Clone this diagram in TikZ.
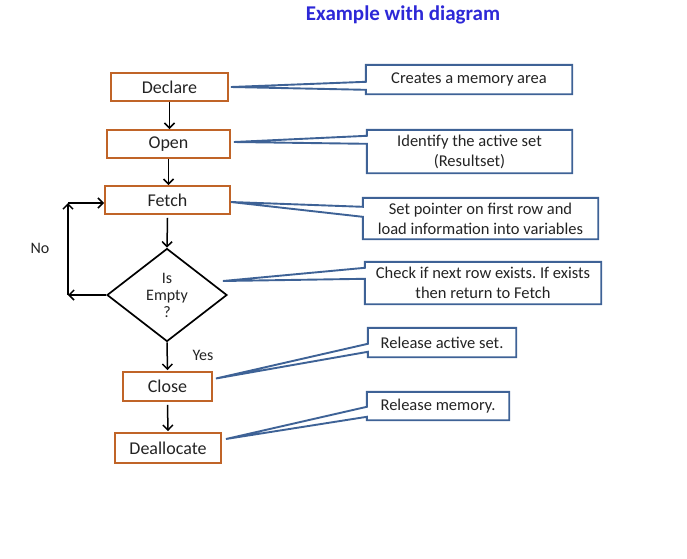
\documentclass[tikz,border=0pt]{standalone}
\usepackage{fontspec}
\setmainfont{Carlito}
\frenchspacing
\usetikzlibrary{shapes.geometric,calc,arrows.meta}
\definecolor{boxorange}{RGB}{192,100,40}
\definecolor{callblue}{RGB}{62,98,150}
\definecolor{titleblue}{RGB}{45,40,215}
\definecolor{txt}{RGB}{35,35,35}
\newcommand{\callshape}[4]{%
  \draw[callline] (#1.north west) -- (#1.north east) -- (#1.south east) -- (#1.south west)
    -- ([yshift=-#4pt]#1.north west) -- (#2) -- ([yshift=-#3pt]#1.north west) -- cycle;}
\begin{document}
\begin{tikzpicture}[x=1pt,y=-1pt,
  flowbox/.style={draw=boxorange,line width=1.9pt,minimum height=28pt,inner sep=0pt,
    text=txt,font=\fontsize{18}{20}\selectfont},
  decision/.style={draw=black,line width=1.7pt,diamond,aspect=1.29,minimum width=120pt,
    minimum height=93pt,inner sep=0pt,align=center,text=txt,font=\fontsize{16}{17}\selectfont},
  callbox/.style={inner sep=0pt,align=center,text=txt,font=\fontsize{16.5}{20}\selectfont},
  callline/.style={draw=callblue,line width=1.9pt,line join=miter},
  flow/.style={draw=black,line width=1.5pt,-{Straight Barb[length=5pt,width=10pt,line width=1.5pt]}},
  lbl/.style={text=txt,font=\fontsize{16}{18}\selectfont}]
\useasboundingbox (0,0) rectangle (687,558);
\node[font=\bfseries\fontsize{21}{24}\selectfont,text=titleblue] (title) at (403,15) {Example with diagram};
% flowchart
\node[flowbox,minimum width=117pt] (declare) at (169.5,87) {Declare};
\node[flowbox,minimum width=123pt] (open) at (168.5,144) {Open};
\node[flowbox,minimum width=125pt] (fetch) at (167.5,200) {Fetch};
\node[decision] (empty) at (167,295) {Is\\Empty\\?};
\node[flowbox,minimum width=89pt,minimum height=29pt] (close) at (167.5,386.5) {Close};
\node[flowbox,minimum width=106pt,minimum height=30pt] (dealloc) at (168,448) {Deallocate};
\draw[flow] (declare.south) -- (declare.south |- open.north);
\draw[flow] (open.south) -- (open.south |- fetch.north);
\draw[flow] ([yshift=-3pt]fetch.south) -- (empty.north);
\draw[flow] (empty.south) -- ([yshift=1pt]close.north);
\draw[flow] ([yshift=-3pt]close.south) -- ([yshift=1pt]dealloc.north);
\coordinate (lpa) at (68,295);
\coordinate (lpb) at (68,203);
\draw[flow] (empty.west) -- (lpa);
\draw[flow] (lpa) -- (lpb);
\draw[flow] (lpb) -- (lpb -| fetch.west);
\node[lbl] (no) at (40,248) {No};
\node[lbl] (yes) at (203,355) {Yes};
% callouts
\node[callbox,minimum width=206pt,minimum height=29pt] (c1) at (469,79.5) {Creates a memory area};
\node[callbox,minimum width=205pt,minimum height=43pt] (c2) at (469.5,151.5) {Identify the active set\\(Resultset)};
\node[callbox,minimum width=235pt,minimum height=41pt] (c3) at (480.5,218.5) {Set pointer on first row and\\load information into variables};
\node[callbox,minimum width=236pt,minimum height=42pt] (c4) at (483,283) {Check if next row exists. If exists\\then return to Fetch};
\node[callbox,minimum width=148pt,minimum height=29pt] (c5) at (442,342.5) {Release active set.};
\node[callbox,minimum width=142pt,minimum height=28pt] (c6) at (438,406) {Release memory.};
\coordinate (t1) at ($(declare.east)+(2,0)$);
\coordinate (t2) at ($(open.east)+(3,-2)$);
\coordinate (t3) at ($(fetch.east)+(0,2)$);
\coordinate (t4) at ($(empty.east)+(-5,-14)$);
\coordinate (t5) at ($(close.east)+(3,-8)$);
\coordinate (t6) at ($(dealloc.east)+(4,-9)$);
\callshape{c1}{t1}{17}{25}
\callshape{c2}{t2}{6}{14}
\callshape{c3}{t3}{9}{19}
\callshape{c4}{t4}{6}{17}
\callshape{c5}{t5}{16}{24}
\callshape{c6}{t6}{15}{25}
\end{tikzpicture}
\end{document}
